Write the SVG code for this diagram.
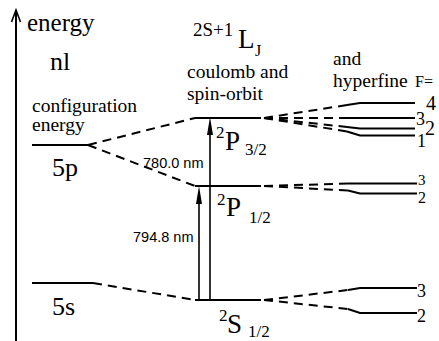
<svg xmlns="http://www.w3.org/2000/svg" width="439" height="341" viewBox="0 0 439 341">
<style>
.lv{stroke:#000;stroke-width:2;fill:none}
.ds{stroke:#000;stroke-width:2;fill:none;stroke-dasharray:9,6}
.ar{stroke:#000;stroke-width:1.6;fill:none}
.t{font-family:'Liberation Serif',serif;fill:#000}
.s{font-family:'Liberation Sans',sans-serif;fill:#000;font-size:14.5px}
</style>
<rect width="439" height="341" fill="#fff"/>
<g id="axis">
<line x1="16" y1="10" x2="16" y2="341" class="lv"/>
<polyline points="11.5,22 16,10 20.5,22" class="ar"/>
<text x="27" y="31" class="t" font-size="25">energy</text>
</g>
<g id="headers">
<text x="50" y="70" class="t" font-size="26">nl</text>
<text x="32" y="112" class="t" font-size="19.5">configuration</text>
<text x="32" y="131" class="t" font-size="19.5">energy</text>
<text x="193" y="36" class="t" font-size="19">2S+1</text>
<text x="238" y="48" class="t" font-size="27">L</text>
<text x="255" y="56" class="t" font-size="16">J</text>
<text x="187" y="78" class="t" font-size="19.5">coulomb and</text>
<text x="187" y="100" class="t" font-size="19.5">spin-orbit</text>
<text x="333" y="65" class="t" font-size="19.5">and</text>
<text x="333" y="87" class="t" font-size="19.5">hyperfine</text>
<text x="415" y="87" class="t" font-size="16">F=</text>
</g>
<g id="n5p">
<line x1="32" y1="145" x2="88" y2="145" class="lv"/>
<text x="52" y="176" class="t" font-size="26">5p</text>
</g>
<g id="n5s">
<line x1="32" y1="283" x2="93" y2="283" class="lv"/>
<text x="52" y="315" class="t" font-size="26">5s</text>
</g>
<g id="P32">
<line x1="195" y1="118" x2="261" y2="118" class="lv"/>
<text x="216" y="138" class="t" font-size="17">2</text>
<text x="225" y="150" class="t" font-size="27">P</text>
<text x="245" y="155" class="t" font-size="17">3/2</text>
</g>
<g id="P12">
<line x1="195" y1="186" x2="261" y2="186" class="lv"/>
<text x="217" y="205" class="t" font-size="17">2</text>
<text x="226" y="216" class="t" font-size="27">P</text>
<text x="249" y="223" class="t" font-size="17">1/2</text>
</g>
<g id="S12">
<line x1="195" y1="300" x2="261" y2="300" class="lv"/>
<text x="219" y="321" class="t" font-size="17">2</text>
<text x="227" y="333" class="t" font-size="27">S</text>
<text x="248" y="337" class="t" font-size="17">1/2</text>
</g>
<g id="hfP32">
<polyline points="347,105 360,103 415,103" class="lv"/>
<polyline points="347,118 415,118" class="lv"/>
<polyline points="347,127 360,128.5 415,128.5" class="lv"/>
<polyline points="347,131.5 360,135.5 415,135.5" class="lv"/>
<text x="426" y="110" class="t" font-size="20">4</text>
<text x="416" y="125" class="t" font-size="18">3</text>
<text x="425" y="135" class="t" font-size="20">2</text>
<text x="417" y="147" class="t" font-size="18">1</text>
</g>
<g id="hfP12">
<polyline points="348,183.5 417,183.5" class="lv"/>
<polyline points="348,190.5 360,193.5 417,193.5" class="lv"/>
<text x="418" y="185" class="t" font-size="15">3</text>
<text x="418" y="203" class="t" font-size="16">2</text>
</g>
<g id="hfS12">
<polyline points="348,290 360,288 417,288" class="lv"/>
<polyline points="348,309 360,313 417,313" class="lv"/>
<text x="417" y="297" class="t" font-size="18">3</text>
<text x="417" y="322" class="t" font-size="18">2</text>
</g>
<g id="connectors">
<line x1="88" y1="145" x2="195" y2="118" class="ds"/>
<line x1="88" y1="145" x2="195" y2="186" class="ds"/>
<line x1="93" y1="283" x2="195" y2="300" class="ds"/>
<line x1="264" y1="118" x2="347" y2="105" class="ds"/>
<line x1="264" y1="118" x2="347" y2="118" class="ds"/>
<line x1="264" y1="118" x2="347" y2="127" class="ds"/>
<line x1="264" y1="118" x2="347" y2="131.5" class="ds"/>
<line x1="264" y1="186" x2="348" y2="183.5" class="ds"/>
<line x1="264" y1="186" x2="348" y2="190.5" class="ds"/>
<line x1="264" y1="300" x2="348" y2="290" class="ds"/>
<line x1="264" y1="300" x2="348" y2="309" class="ds"/>
<line x1="199" y1="300" x2="199" y2="198" class="ar"/>
<polygon points="199,186 196,204 202,204" fill="#000"/>
<line x1="210" y1="300" x2="210" y2="130" class="ar"/>
<polygon points="210,117 207,135 213,135" fill="#000"/>
<text x="143" y="168" class="s">780.0 nm</text>
<text x="133" y="242" class="s">794.8 nm</text>
</g>
</svg>
